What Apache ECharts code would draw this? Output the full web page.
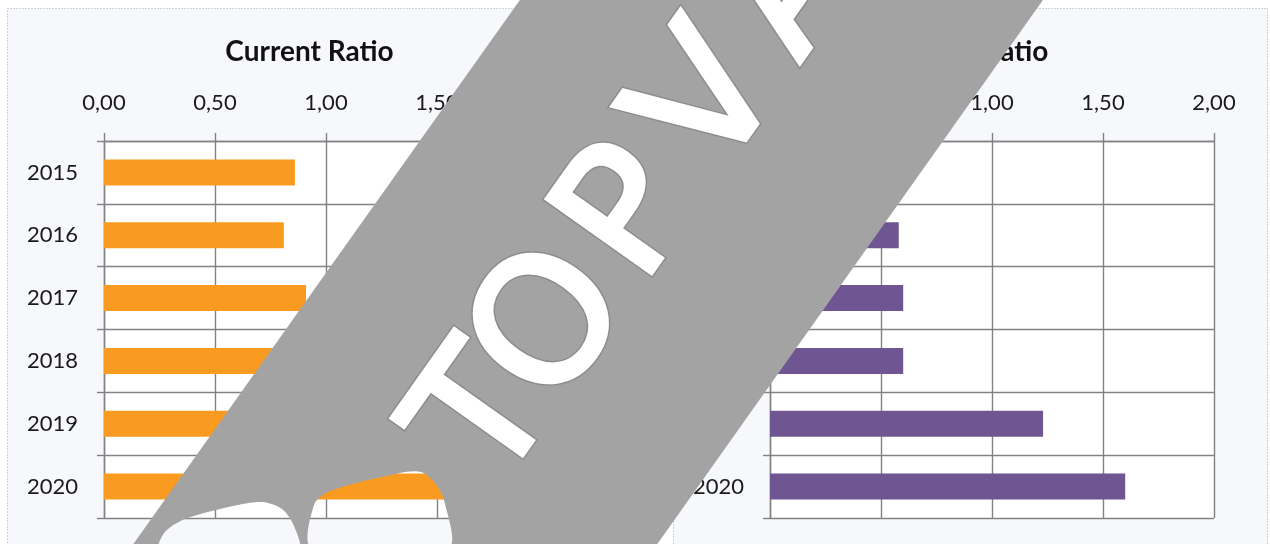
<!DOCTYPE html>
<html>
<head>
<meta charset="utf-8">
<script src="https://cdn.jsdelivr.net/npm/echarts@6/dist/echarts.min.js"></script>
<style>
  html, body { margin: 0; padding: 0; background: #ffffff; }
  #main { width: 1270px; height: 544px; }
</style>
</head>
<body>
<div id="main"></div>
<script>
// Ratio data per year
const years = ['2015', '2016', '2017', '2018', '2019', '2020'];
const currentRatio = [0.86, 0.81, 0.91, 0.88, 1.55, 1.57];
const quickRatio = [0.56, 0.58, 0.60, 0.60, 1.23, 1.60];
const chartTitles = ['Current Ratio', 'Quick Ratio'];
const ratioTicks = [0, 0.5, 1, 1.5, 2];
const watermarkLetters = ['T', 'O', 'P', 'V', 'A'];
const letterOffsets = [0, 113, 250, 387, 530];

const GRID_COLOR = '#828282';
const PANEL_BG = '#f7f8fc';
const FONT = 'Lato, "Open Sans", sans-serif';
const barColors = ['#f99b21', '#6f5591'];
const seriesData = [currentRatio, quickRatio];

const panels = [
  { left: 7, width: 595, gridLeft: 104 },
  { left: 673, width: 594, gridLeft: 770 }
];

const fmt = v => v.toFixed(2).replace('.', ',');
const step = ratioTicks[1] - ratioTicks[0];

const grids = [], xAxes = [], yAxes = [], series = [], titles = [], graphics = [];

panels.forEach((p, i) => {
  graphics.push({
    type: 'rect', z: -10, silent: true,
    shape: { x: p.left + 0.5, y: 8.5, width: p.width, height: 560 },
    style: { fill: PANEL_BG, stroke: '#a9a9a9', lineWidth: 1, lineDash: [1, 2] }
  });
  grids.push({ left: p.gridLeft, top: 141, width: 444, height: 377, backgroundColor: '#ffffff', show: true, borderWidth: 0 });
  titles.push({
    text: chartTitles[i],
    left: p.left + p.width / 2, top: 33, textAlign: 'center',
    textStyle: { fontFamily: FONT, fontWeight: 'bold', fontSize: 28, color: '#111111' }
  });
  xAxes.push({
    type: 'value', gridIndex: i, position: 'top',
    min: ratioTicks[0], max: ratioTicks[ratioTicks.length - 1], interval: step,
    axisLine: { show: true, lineStyle: { color: GRID_COLOR, width: 1.4 } },
    axisTick: { show: true, length: 8, lineStyle: { color: GRID_COLOR, width: 1.4 } },
    splitLine: { show: true, lineStyle: { color: GRID_COLOR, width: 1.4 } },
    axisLabel: { margin: 27, formatter: fmt, fontFamily: FONT, fontSize: 22, color: '#1a1a1a' }
  });
  yAxes.push({
    type: 'category', gridIndex: i, inverse: true, data: years,
    axisLine: { show: true, lineStyle: { color: GRID_COLOR, width: 1.4 } },
    axisTick: { show: true, length: 7, lineStyle: { color: GRID_COLOR, width: 1.4 } },
    splitLine: { show: true, lineStyle: { color: GRID_COLOR, width: 1.4 } },
    axisLabel: { margin: 26, fontFamily: FONT, fontSize: 22, color: '#1a1a1a' }
  });
  series.push({
    type: 'bar', xAxisIndex: i, yAxisIndex: i,
    data: seriesData[i], barWidth: 26,
    itemStyle: { color: barColors[i] },
    silent: true, animation: false
  });
});

// Diagonal stamp band with letters cut out of it
const WM_LEVEL = 3;
const WM_GRAY = '#a3a3a3';
graphics.push({
  type: 'polygon', zlevel: WM_LEVEL, z: 1, silent: true,
  shape: { points: [[527, -10], [1050, -10], [646, 560], [122, 560]] },
  style: { fill: WM_GRAY }
});
const holeShapes = [
  [[160, 548], [165, 532], [185, 519], [233, 506], [262, 502], [282, 509], [294, 526], [298, 548]],
  [[312, 548], [314, 505], [330, 491], [400, 473], [421, 472], [434, 482], [444, 500], [448, 548]]
];
holeShapes.forEach(pts => {
  graphics.push({
    type: 'polygon', zlevel: WM_LEVEL, z: 3, silent: true,
    shape: { points: pts, smooth: 0.3 },
    style: { fill: '#000000', blend: 'destination-out' }
  });
});
const ang = 54.7 * Math.PI / 180;
const ux = Math.cos(ang), uy = -Math.sin(ang);
const vx = -Math.sin(ang), vy = -Math.cos(ang);
const base = [545, 460];
watermarkLetters.forEach((ch, k) => {
  const d = letterOffsets[k];
  const cx = base[0] + ux * d + vx * 67;
  const cy = base[1] + uy * d + vy * 67;
  [{ stroke: '#8c8c8c', lineWidth: 8, fill: null, z: 2 },
   { fill: '#ffffff', stroke: '#ffffff', lineWidth: 5, blend: 'destination-out', z: 3 }].forEach(s => {
    graphics.push({
      type: 'text', zlevel: WM_LEVEL, z: s.z, silent: true,
      x: cx, y: cy, rotation: ang,
      style: {
        text: ch, font: 'normal 175px "DejaVu Sans"',
        textAlign: 'center', textVerticalAlign: 'middle',
        align: 'center', verticalAlign: 'middle',
        fill: s.fill, stroke: s.stroke, lineWidth: s.lineWidth, blend: s.blend,
        lineJoin: 'round'
      }
    });
  });
});

const chart = echarts.init(document.getElementById('main'), null, { renderer: 'canvas' });
chart.setOption({
  animation: false,
  backgroundColor: '#ffffff',
  title: titles,
  grid: grids,
  xAxis: xAxes,
  yAxis: yAxes,
  series: series,
  graphic: { elements: graphics }
});
</script>
</body>
</html>
